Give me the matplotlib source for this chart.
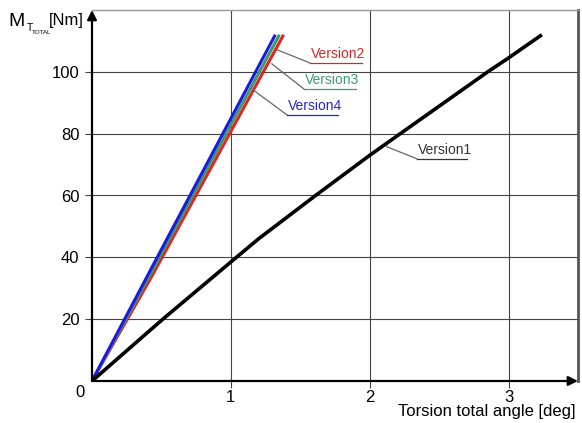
import matplotlib.pyplot as plt

plt.rcParams['font.family'] = ['Liberation Sans', 'DejaVu Sans']

# Torsion curves
v1_angle = [0.0, 0.51, 1.0, 1.2, 1.61, 2.0, 2.22, 2.85, 3.0, 3.24]
v1_moment = [0.0, 20.0, 38.5, 46.0, 60.0, 73.0, 80.0, 100.0, 104.5, 112.0]

v2_angle = [0.0, 0.42, 1.38]
v2_moment = [0.0, 33.0, 112.0]

v3_angle = [0.0, 0.42, 1.35]
v3_moment = [0.0, 34.5, 112.0]

v4_angle = [0.0, 0.42, 1.32]
v4_moment = [0.0, 35.8, 112.0]

x_ticks = [1, 2, 3]
y_ticks = [20, 40, 60, 80, 100]

# label name, colour, leader start, elbow, underline end
labels = [
    ('Version2', '#d62828', (1.335, 107.1), (1.568, 102.9), (1.942, 102.9)),
    ('Version3', '#3c9a78', (1.295, 102.6), (1.525, 94.5), (1.90, 94.5)),
    ('Version4', '#2626c8', (1.15, 94.5), (1.403, 86.1), (1.77, 86.1)),
    ('Version1', '#333333', (2.122, 75.8), (2.338, 71.9), (2.698, 71.9)),
]

fig = plt.figure(figsize=(5.82, 4.23), dpi=100)
ax = fig.add_axes([92 / 582, 42 / 423, 486 / 582, 371 / 423])

ax.set_xlim(0, 3.5)
ax.set_ylim(0, 120)
ax.set_xticks(x_ticks)
ax.set_yticks(y_ticks)
ax.tick_params(labelsize=12, length=5, color='#444444', width=0.8)
ax.tick_params(axis='x', pad=1.5)
ax.tick_params(axis='y', pad=4)
ax.grid(True, color='#444444', linewidth=0.8)

for side in ['left', 'bottom']:
    ax.spines[side].set_visible(False)
ax.spines['top'].set_color('#999999')
ax.spines['top'].set_linewidth(1.0)
ax.spines['right'].set_color('#555555')
ax.spines['right'].set_linewidth(2.0)

ax.plot(v2_angle, v2_moment, color='#e8231f', linewidth=2.2, solid_capstyle='butt')
ax.plot(v3_angle, v3_moment, color='#3a9a6a', linewidth=2.2, solid_capstyle='butt')
ax.plot(v4_angle, v4_moment, color='#1a1ae0', linewidth=2.2, solid_capstyle='butt')
ax.plot(v1_angle, v1_moment, color='black', linewidth=2.6, solid_capstyle='butt')

for name, col, start, elbow, end in labels:
    ax.plot([start[0], elbow[0]], [start[1], elbow[1]], color='#666666', linewidth=0.9)
    ax.plot([elbow[0], end[0]], [elbow[1], end[1]], color=col, linewidth=0.9)
    ax.text(elbow[0] + 0.01, elbow[1] + 0.5, name, color=col, fontsize=10,
            ha='left', va='bottom')

# axis arrows
ax.annotate('', xy=(1.0, 0), xytext=(0, 0), xycoords='axes fraction',
            arrowprops=dict(arrowstyle='-|>', color='black', lw=1.6,
                            mutation_scale=14, shrinkA=0, shrinkB=0), zorder=5)
ax.annotate('', xy=(0, 1.0), xytext=(0, 0), xycoords='axes fraction',
            arrowprops=dict(arrowstyle='-|>', color='black', lw=1.6,
                            mutation_scale=14, shrinkA=0, shrinkB=0), zorder=5)

fig.text(80 / 582, 1 - 392 / 423, '0', fontsize=12, ha='center', va='center')

# y label pieces: M, subscript T, tiny TOTAL, [Nm]
fig.text(8 / 582, 1 - 21 / 423, 'M', fontsize=14, ha='left', va='center')
fig.text(27 / 582, 1 - 28 / 423, 'T', fontsize=7.5, ha='left', va='center')
fig.text(32 / 582, 1 - 32 / 423, 'TOTAL', fontsize=4.5, ha='left', va='center')
fig.text(84 / 582, 1 - 21 / 423, '[Nm]', fontsize=12, ha='right', va='center')

fig.text(576 / 582, 1 - 411 / 423, 'Torsion total angle [deg]', fontsize=12,
         ha='right', va='center')

plt.savefig('out.png', dpi=100)
